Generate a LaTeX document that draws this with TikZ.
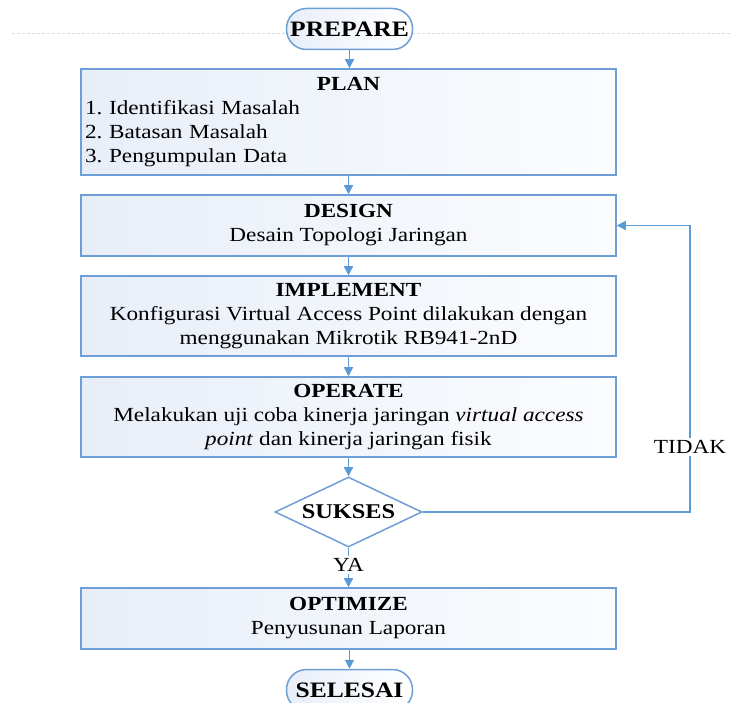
\documentclass[tikz,border=0pt]{standalone}
\usepackage{fontspec}
\setmainfont{Liberation Serif}[FakeStretch=1.16]
\usetikzlibrary{shapes.geometric,arrows.meta}
\definecolor{bord}{RGB}{110,158,214}
\definecolor{arr}{RGB}{91,155,213}
\definecolor{fillA}{RGB}{232,238,248}
\definecolor{fillB}{RGB}{251,252,254}
\definecolor{dashc}{RGB}{218,218,218}
\begin{document}
\frenchspacing
\begin{tikzpicture}[x=1pt,y=-1pt,
  every node/.style={font=\fontsize{20}{24}\selectfont\frenchspacing, inner sep=0pt},
  stepbox/.style={draw=bord, line width=1.5pt, left color=fillA, right color=fillB, minimum width=535pt, align=center},
  term/.style={draw=bord, line width=1.5pt, left color=fillA, right color=white, rounded corners=20pt, minimum width=126pt, minimum height=41pt, font=\fontsize{22}{26}\selectfont\bfseries},
  decide/.style={diamond, draw=bord, line width=1.5pt, fill=white, aspect=2.1, minimum width=147pt, minimum height=70pt, font=\fontsize{21}{25}\selectfont\bfseries},
  flow/.style={draw=arr, line width=1.5pt, -{Triangle[length=9pt,width=9pt]}},
  lbl/.style={fill=white, inner sep=2pt}
]
\useasboundingbox (0,0) rectangle (732,703);
\coordinate (dl) at (12,33);
\coordinate (dr) at (732,33);
\draw[dashc, line width=0.8pt, dash pattern=on 3pt off 2pt] (dl) -- (dr);

\node[term] (prepare) at (349.5,29) {PREPARE};
\node[stepbox, minimum height=106pt, text width=527pt, align=left] (plan) at (348.5,122)
  {\makebox[\linewidth]{\textbf{PLAN}}\\1. Identifikasi Masalah\\2. Batasan Masalah\\3. Pengumpulan Data};
\node[stepbox, minimum height=61pt] (design) at (348.5,225.5) {\textbf{DESIGN}\\Desain Topologi Jaringan};
\node[stepbox, minimum height=80pt] (implement) at (348.5,316)
  {\textbf{IMPLEMENT}\\Konfigurasi Virtual Access Point dilakukan dengan\\menggunakan Mikrotik RB941-2nD};
\node[stepbox, minimum height=80pt] (operate) at (348.5,417)
  {\textbf{OPERATE}\\Melakukan uji coba kinerja jaringan \textit{virtual access}\\\textit{point} dan kinerja jaringan fisik};
\node[decide] (sukses) at (348.5,512) {SUKSES};
\node[stepbox, minimum height=61pt] (optimize) at (348.5,618.5) {\textbf{OPTIMIZE}\\Penyusunan Laporan};
\node[term] (selesai) at (349.5,690) {SELESAI};

\draw[flow] (prepare.south |- prepare.south) -- (prepare.south |- plan.north);
\draw[flow] (plan) -- (design);
\draw[flow] (design) -- (implement);
\draw[flow] (implement) -- (operate);
\draw[flow] (operate) -- (sukses);
\draw[flow] (sukses) -- (optimize);
\draw[flow] (optimize.south -| selesai.north) -- (selesai.north);
\node[lbl] (ya) at (348.5,565) {YA};

\coordinate (c1) at (690,512);
\coordinate (c2) at (690,225.5);
\draw[flow] (sukses.east) -- (c1) -- (c2) -- (design.east);
\node[lbl] (tidak) at (690,447) {TIDAK};
\end{tikzpicture}
\end{document}
